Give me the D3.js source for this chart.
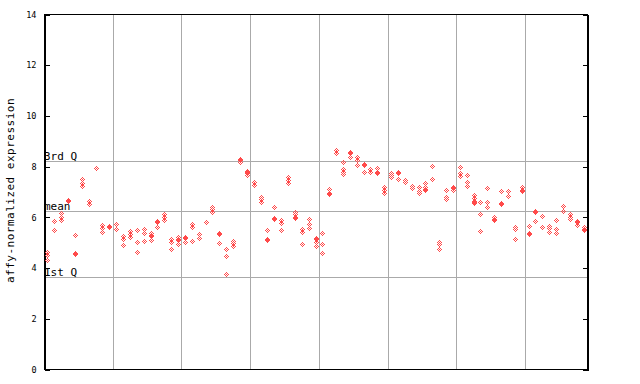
<!DOCTYPE html>
<html>
<head>
<meta charset="utf-8">
<script src="https://cdn.jsdelivr.net/npm/d3@7"></script>
<style>
  body { margin: 0; background: #fff; }
  #app { width: 640px; height: 384px; }
  text { font-family: "DejaVu Sans Mono", "Liberation Mono", monospace; }
</style>
</head>
<body>
<div id="app"></div>
<script>
// replicate values per sample, left to right
const sampleValues = [
  [4.61, 4.5, 4.3], [5.84, 5.48], [6.14, 6.0, 5.88], [6.66, 6.62], [5.27, 4.59, 4.55],
  [7.48, 7.32, 7.22], [6.62, 6.52], [7.91], [5.68, 5.55, 5.41], [5.64, 5.6],
  [5.72, 5.51], [5.24, 5.14, 4.9], [5.45, 5.32, 5.19], [5.48, 5.01, 4.61], [5.52, 5.35, 5.06],
  [5.35, 5.28, 5.24, 5.09], [5.85, 5.81, 5.59], [6.11, 5.98, 5.88], [5.11, 5.02, 4.73], [5.19, 5.11, 5.07, 4.93],
  [5.22, 5.18, 5.0], [5.72, 5.61, 5.05], [5.32, 5.15], [5.78], [6.4, 6.3, 6.19],
  [5.38, 5.34, 4.96], [4.73, 4.46, 3.73], [5.06, 4.96, 4.85], [8.27, 8.23, 8.16], [7.82, 7.78, 7.72, 7.64],
  [7.36, 7.26], [6.8, 6.69, 6.6], [5.48, 5.11, 5.07], [6.37, 5.97, 5.93], [5.88, 5.77, 5.48],
  [7.56, 7.45, 7.35], [6.2, 6.11, 6.0, 5.96], [5.51, 5.41, 4.93], [5.9, 5.71, 5.55], [5.15, 5.11, 5.02, 4.86],
  [5.35, 4.92, 4.56], [7.09, 6.93, 6.89], [8.64, 8.53], [8.18, 7.88, 7.78, 7.69], [8.56, 8.52, 8.35],
  [8.35, 8.24, 8.04], [8.08, 8.04, 7.76], [7.88, 7.78], [7.91, 7.78, 7.74], [7.16, 7.06, 6.95],
  [7.74, 7.65, 7.58], [7.78, 7.74, 7.48], [7.45, 7.36], [7.22, 7.13], [7.16, 7.03, 6.93],
  [7.32, 7.19, 7.09, 7.05], [8.01, 7.48], [5.02, 4.93, 4.73], [7.06, 6.8, 6.69], [7.19, 7.15, 7.06],
  [7.95, 7.72, 7.61], [7.65, 7.36, 7.22], [6.86, 6.73, 6.62, 6.58, 6.53], [6.6, 6.11, 5.44], [7.13, 6.6, 6.37],
  [6.0, 5.9, 5.86], [7.02, 6.53, 6.49], [7.02, 6.82], [5.61, 5.51, 5.13], [7.16, 7.06, 7.02],
  [5.64, 5.35, 5.31], [6.24, 6.2, 5.84], [6.03, 5.59], [5.65, 5.55, 5.41], [5.88, 5.52, 5.35],
  [6.43, 6.23], [6.11, 6.0, 5.9], [5.84, 5.8, 5.68], [5.61, 5.52, 5.48]
];
const groupBreaks = [10, 20, 30, 40, 50, 60, 70];
const yTicks = [0, 2, 4, 6, 8, 10, 12, 14];
const quartileLabels = ["3rd Q", "mean", "1st Q"];
const quartileValues = [8.21, 6.22, 3.62];
const yTitle = "affy-normalized expression";

const W = 640, H = 384;
const m = { t: 14, r: 53, b: 15, l: 44 };
const red = "#ff4a4a";

const svg = d3.select("#app").append("svg")
    .attr("width", W).attr("height", H);

const defs = svg.append("defs");
// two checker phases so overlapping diamonds 1px apart fill in
[0, 1].forEach(ph => {
    const p = defs.append("pattern")
        .attr("id", "chk" + ph)
        .attr("patternUnits", "userSpaceOnUse")
        .attr("width", 2).attr("height", 2);
    p.append("rect").attr("x", ph).attr("y", 0).attr("width", 1).attr("height", 1).attr("fill", red);
    p.append("rect").attr("x", 1 - ph).attr("y", 1).attr("width", 1).attr("height", 1).attr("fill", red);
});

const x = d3.scaleLinear().domain([0, sampleValues.length]).range([m.l, W - m.r]);
const y = d3.scaleLinear().domain([0, 14]).range([H - m.b, m.t]);

const g = svg.append("g").attr("transform", "translate(0.5,0.5)").attr("shape-rendering", "crispEdges");

// vertical group separators
g.selectAll(".vgrid").data(groupBreaks).enter()
    .append("line")
    .attr("x1", d => Math.round(x(d))).attr("x2", d => Math.round(x(d)))
    .attr("y1", m.t).attr("y2", H - m.b)
    .attr("stroke", "#aaa");

// quartile lines
g.selectAll(".qline").data(quartileValues).enter()
    .append("line")
    .attr("x1", m.l).attr("x2", W - m.r)
    .attr("y1", d => Math.round(y(d))).attr("y2", d => Math.round(y(d)))
    .attr("stroke", "#aaa");

svg.selectAll(".qlabel").data(quartileLabels).enter()
    .append("text")
    .attr("x", m.l)
    .attr("y", (d, i) => Math.round(y(quartileValues[i])) - 1)
    .style("font-size", "11px")
    .attr("fill", "#000")
    .text(d => d);

// points
const pts = [];
sampleValues.forEach((vals, i) => vals.forEach(v => pts.push({ i: i, v: v })));

svg.append("g").selectAll("path").data(pts).enter()
    .append("path")
    .attr("shape-rendering", "crispEdges")
    .attr("d", d => {
        const cx = Math.round(x(d.i + 0.5)), cy = Math.round(y(d.v));
        return "M" + (cx + 0.5) + "," + (cy - 2.5) + "L" + (cx + 3.5) + "," + (cy + 0.5) +
               "L" + (cx + 0.5) + "," + (cy + 3.5) + "L" + (cx - 2.5) + "," + (cy + 0.5) + "Z";
    })
    .attr("fill", d => {
        const cx = Math.round(x(d.i + 0.5)), cy = Math.round(y(d.v));
        return "url(#chk" + ((cx + cy) % 2) + ")";
    });

// axes, ticks pointing inward
const yLeft = g.append("g")
    .attr("transform", "translate(" + m.l + ",0)")
    .call(d3.axisLeft(y).tickValues(yTicks).tickSize(-5).tickPadding(8).tickFormat(d3.format("d")));
yLeft.selectAll("text").style("font-size", "8.5px").attr("fill", "#000");

g.append("g")
    .attr("transform", "translate(" + (W - m.r) + ",0)")
    .call(d3.axisRight(y).tickValues(yTicks).tickSize(-5).tickFormat(""));

g.selectAll(".domain").attr("stroke", "#000");
g.selectAll(".tick line").attr("stroke", "#000");

// frame
g.append("rect")
    .attr("x", m.l).attr("y", m.t)
    .attr("width", W - m.r - m.l).attr("height", H - m.b - m.t)
    .attr("fill", "none").attr("stroke", "#000");

svg.append("text")
    .attr("transform", "translate(14," + ((m.t + H - m.b) / 2 - 1) + ") rotate(-90)")
    .attr("text-anchor", "middle")
    .style("font-size", "11px")
    .style("letter-spacing", "0.5px")
    .attr("fill", "#000")
    .text(yTitle);
</script>
</body>
</html>
